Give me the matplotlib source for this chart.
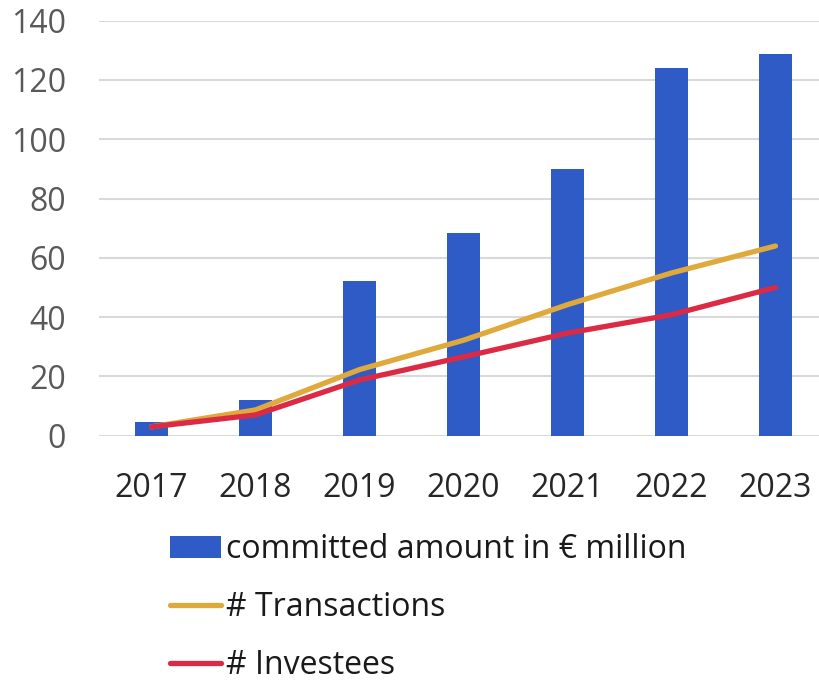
import matplotlib
matplotlib.use("Agg")
import matplotlib.pyplot as plt
import numpy as np

years = ["2017", "2018", "2019", "2020", "2021", "2022", "2023"]
committed = [4.5, 12, 52.3, 68.3, 90, 124.2, 128.6]
transactions = [3, 8.7, 22.3, 32.2, 44.2, 54.9, 64]
investees = [3, 7, 18.8, 26.6, 34.6, 40.8, 50]
yticks = [0, 20, 40, 60, 80, 100, 120, 140]

plt.rcParams['font.family'] = ['Open Sans', 'DejaVu Sans']

fig = plt.figure(figsize=(8.2, 6.81), dpi=100)
ax = fig.add_axes([99.5/820, 1-435.7/681, 728/820, (435.7-20.7)/681])

x = np.arange(len(years))
bars = ax.bar(x, committed, width=0.32, color='#2E5BC6', label='committed amount in € million', zorder=2)
l1, = ax.plot(x, transactions, color='#E0A93B', lw=3.8, solid_capstyle='round', label='# Transactions', zorder=3)
l2, = ax.plot(x, investees, color='#DC2A45', lw=3.8, solid_capstyle='round', label='# Investees', zorder=4)

ax.set_xlim(-0.5, len(years) - 0.5)
ax.set_ylim(0, 140)
ax.set_yticks(yticks)
ax.set_yticklabels([str(v) for v in yticks])
ax.set_xticks(x)
ax.set_xticklabels(years)
ax.yaxis.grid(True, color='#D9D9D9', lw=1.5, zorder=0)
ax.set_axisbelow(True)
for s in ax.spines.values():
    s.set_visible(False)
ax.tick_params(axis='y', length=0, pad=24, labelsize=23, labelcolor='#595959')
ax.tick_params(axis='x', length=0, pad=26, labelsize=23, labelcolor='#262626')

leg = fig.legend([bars, l1, l2], [bars.get_label(), l1.get_label(), l2.get_label()],
                 loc='upper left', bbox_to_anchor=(170/820, 1-533/681), frameon=False,
                 fontsize=23, handlelength=1.6, handletextpad=0.15, labelspacing=0.78,
                 borderaxespad=0, borderpad=0)
for t in leg.get_texts():
    t.set_color('#1A1A1A')

fig.savefig('out.png', dpi=100)
